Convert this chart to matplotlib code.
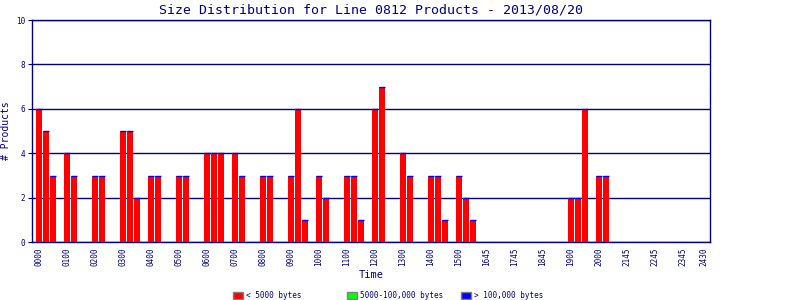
import matplotlib

matplotlib.use("Agg")

import matplotlib.pyplot as plt
from matplotlib.patches import Patch
import numpy as np

# products per 15-minute slot, 4 slots per hour
small = [
    6, 5, 3, 0,  4, 3, 0, 0,  3, 3, 0, 0,  5, 5, 2, 0,   # 00-03
    3, 3, 0, 0,  3, 3, 0, 0,  4, 4, 4, 0,  4, 3, 0, 0,   # 04-07
    3, 3, 0, 0,  3, 6, 1, 0,  3, 2, 0, 0,  3, 3, 1, 0,   # 08-11
    6, 7, 0, 0,  4, 3, 0, 0,  3, 3, 1, 0,  3, 2, 1, 0,   # 12-15
    0, 0, 0, 0,  0, 0, 0, 0,  0, 0, 0, 0,  2, 2, 6, 0,   # 16-19
    3, 3, 0, 0,  0, 0, 0, 0,  0, 0, 0, 0,  0, 0, 0, 0,   # 20-23
]
medium = [0] * len(small)
large = [0] * len(small)

tick_slots = list(range(0, 96, 4)) + [95]
tick_labels = ["0000", "0100", "0200", "0300", "0400", "0500", "0600", "0700",
               "0800", "0900", "1000", "1100", "1200", "1300", "1400", "1500",
               "1645", "1745", "1845", "1900", "2000", "2145", "2245", "2345",
               "2430"]
series_labels = ["< 5000 bytes", "5000-100,000 bytes", "> 100,000 bytes"]
series_colors = ["#ff0000", "#00ff00", "#0000ff"]

NAVY = "#000080"
plt.rcParams["font.family"] = "DejaVu Sans Mono"

fig = plt.figure(figsize=(8, 3), dpi=100)
ax = fig.add_axes([0.04, 0.193, 0.8475, 0.74])

x = np.arange(len(small))
s = np.array(small)
m = np.array(medium)
b = np.array(large)
w = 0.86
has = s > 0
ax.bar(x, s, width=w, color=series_colors[0], zorder=3)
ax.bar(x[has], m[has], bottom=s[has], width=w, color=series_colors[1], zorder=3)
ax.bar(x[has], b[has], bottom=(s + m)[has], width=w, color=series_colors[2], zorder=3)
# the top of every stack gets the thin blue cap of the last series
top = (s + m + b)[has]
ax.hlines(top, x[has] - w / 2, x[has] + w / 2, color=series_colors[2],
          linewidth=1, zorder=4)

ax.set_xlim(-1, 95.9)
ax.set_ylim(0, 10)
ax.set_yticks(range(0, 11, 2))
ax.yaxis.grid(True, color=NAVY, linewidth=1, zorder=1)
ax.set_xticks(tick_slots)
ax.set_xticklabels(tick_labels, rotation=90, fontsize=5.5, color=NAVY)
ax.tick_params(axis="x", length=0, pad=4)
ax.tick_params(axis="y", length=3, pad=2, color=NAVY, labelcolor=NAVY, labelsize=5.5)
for sp in ax.spines.values():
    sp.set_color(NAVY)
    sp.set_linewidth(1)

ax.set_title("Size Distribution for Line 0812 Products - 2013/08/20",
             fontsize=9.5, color=NAVY, pad=5)
ax.set_ylabel("# Products", fontsize=7, color=NAVY)
ax.yaxis.set_label_coords(-0.031, 0.5)
ax.set_xlabel("Time", fontsize=7.5, color=NAVY, labelpad=3)

# legend: three fixed-pitch entries, like the original
for lab, col, xpos in zip(series_labels, series_colors, [0.285, 0.428, 0.57]):
    leg = fig.legend(handles=[Patch(facecolor=col, edgecolor="gray", label=lab)],
                     loc="lower left", bbox_to_anchor=(xpos, -0.015),
                     frameon=False, fontsize=5.5, handlelength=1.3,
                     handleheight=1.0, handletextpad=0.4, borderaxespad=0.2)
    for t in leg.get_texts():
        t.set_color(NAVY)

fig.savefig("out.png", dpi=100)
plt.close(fig)
